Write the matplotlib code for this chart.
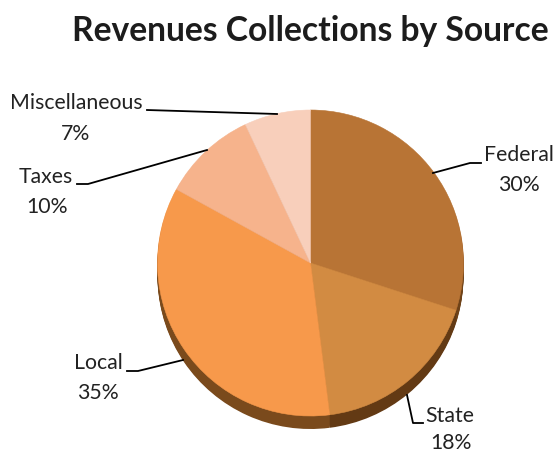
import matplotlib
matplotlib.use("Agg")
import matplotlib.pyplot as plt
from matplotlib.patches import Wedge

labels = ["Federal", "State", "Local", "Taxes", "Miscellaneous"]
values = [30, 18, 35, 10, 7]
colors = ["#B87435", "#D28B42", "#F7994B", "#F6B38C", "#F8CFBB"]
side_colors = ["#6E4218", "#633A14", "#7A4A1C", "#7A4A1C", "#7A4A1C"]
title = "Revenues Collections by Source"
name_xy = [(519, 155), (450, 416), (98, 363), (46, 177), (76, 103)]
pct_xy = [(519, 185), (451, 443), (98, 393), (47, 207), (76, 134)]
leaders = [[(433, 173), (470, 163), (481, 163)],
           [(407, 395), (413, 423), (423, 423)],
           [(183, 360), (138, 371), (127, 371)],
           [(207, 150), (88, 184), (77, 184)],
           [(277, 114), (147, 110)]]

plt.rcParams['font.family'] = ['Lato', 'DejaVu Sans']
W, H = 556, 453
fig = plt.figure(figsize=(W/100, H/100), dpi=100)
ax = fig.add_axes([0, 0, 1, 1])
ax.set_xlim(0, W)
ax.set_ylim(H, 0)
ax.axis('off')

cx, cy, r = 310.5, 263, 153
depth = 13

# y grows downward here, so angles run clockwise from the +x axis
start = -90.0
spans = []
for v in values:
    spans.append((start, start + 360 * v / sum(values)))
    start += 360 * v / sum(values)

for dy in range(depth, 0, -1):
    for (a, b), col in zip(spans, side_colors):
        ax.add_patch(Wedge((cx, cy + dy), r, a, b, color=col, lw=0))
for (a, b), col in zip(spans, colors):
    ax.add_patch(Wedge((cx, cy), r, a, b, facecolor=col, edgecolor=col, lw=0.4))

for pts in leaders:
    ax.plot([p[0] for p in pts], [p[1] for p in pts], color="black", lw=1.3)
for lab, v, n, p in zip(labels, values, name_xy, pct_xy):
    ax.text(n[0], n[1], lab, ha='center', va='center', fontsize=15.3, color="#222222")
    ax.text(p[0], p[1], f"{v}%", ha='center', va='center', fontsize=15.3, color="#222222")
ax.text(310, 31, title, ha='center', va='center', fontsize=24.2, fontweight='bold', color="#1c1c1c")
fig.savefig("out.png", dpi=100)
